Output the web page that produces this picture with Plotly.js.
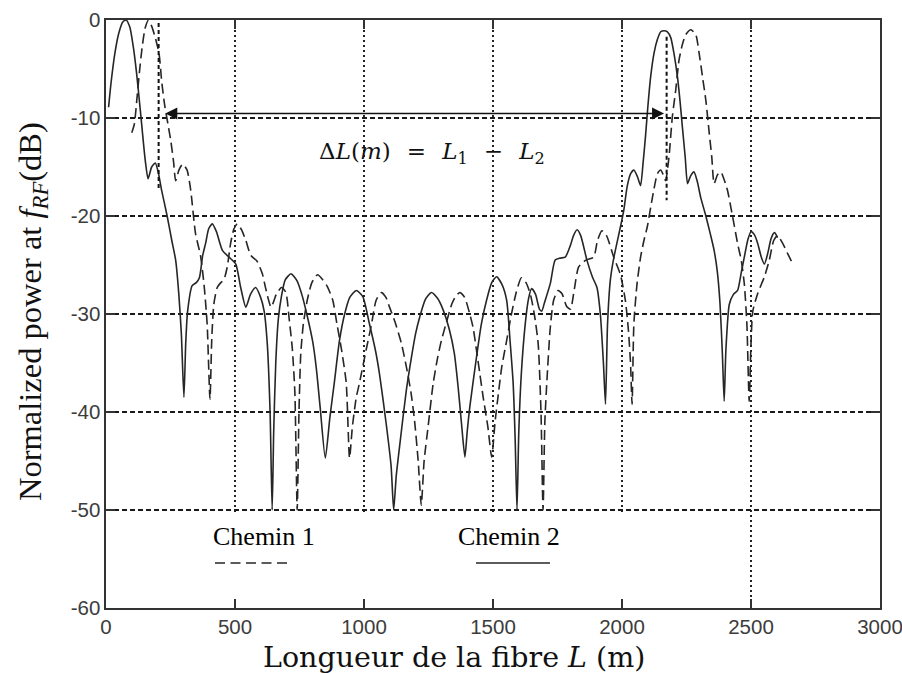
<!DOCTYPE html>
<html>
<head>
<meta charset="utf-8">
<script src="https://cdn.plot.ly/plotly-3.0.1.min.js"></script>
<style>
  html, body { margin: 0; padding: 0; background: #fff; }
  #chart { width: 902px; height: 673px; }
</style>
</head>
<body>
<div id="chart"></div>
<script>
// ---- Data ----
// Chemin 2 (solid line): fibre length L (m) and normalized power (dB)
const chemin2_L = [10,20,35,50,65,78,92,105,118,133,152,163,177,191,203,215,237,255,270,282,292,302,309,316,334,350,362,375,386,398,412,428,451,477,503,522,542,560,580,598,613,625,636,644,650,658,668,680,695,717,740,760,780,801,815,830,850,868,885,905,925,945,970,995,1021,1045,1060,1086,1105,1115,1125,1138,1164,1184,1200,1216,1238,1261,1285,1307,1330,1350,1365,1378,1391,1400,1410,1436,1455,1475,1495,1514,1535,1553,1566,1578,1586,1593,1600,1610,1625,1638,1650,1665,1680,1689,1700,1722,1741,1760,1780,1800,1812,1826,1840,1864,1885,1903,1916,1928,1936,1944,1955,1968,1994,2007,2020,2033,2046,2060,2072,2082,2091,2100,2111,2124,2137,2150,2163,2176,2189,2202,2215,2225,2234,2245,2254,2266,2279,2292,2305,2325,2342,2357,2370,2380,2389,2396,2403,2416,2432,2448,2462,2474,2488,2500,2513,2526,2540,2552,2565,2578,2591,2603];
const chemin2_dB = [-8.9,-6.3,-3.3,-1.3,-0.2,0,-0.7,-2.6,-5.3,-9.2,-14.3,-16.2,-15.0,-14.6,-15.6,-17.3,-20.0,-22.5,-24.5,-27.9,-32,-38.5,-33,-29.8,-27.1,-26.8,-26.3,-24,-22.8,-21.3,-20.8,-21.6,-23.5,-24.2,-24.9,-27.3,-29.3,-28.0,-27.3,-28.2,-29.7,-33,-40,-50,-42,-35,-30.5,-28.2,-26.5,-25.9,-26.6,-28.1,-30.2,-32.8,-35.5,-39.5,-44.7,-40.5,-37,-32.7,-30,-28.3,-27.6,-28.2,-31,-33.8,-36.1,-41.2,-45.5,-50,-46.5,-43.5,-37.8,-34.4,-32,-30.3,-28.5,-27.8,-28.4,-29.6,-31.5,-34,-37.5,-41.2,-44.6,-42,-39.5,-34.4,-31,-28.6,-26.8,-26.2,-27,-28.6,-32.7,-37,-42.9,-50,-42,-36,-31,-28.4,-27.4,-28,-29.5,-29.7,-28.8,-26.9,-24.5,-24.3,-24.2,-23,-22,-21.4,-22,-24.5,-26.2,-27.3,-30,-35,-39.2,-31,-26.5,-24.3,-21.1,-19.4,-17,-15.7,-15.3,-16,-16.9,-14.5,-11.9,-8.9,-5.8,-3.4,-2,-1.2,-1.1,-1.2,-1.8,-3.5,-5.8,-8.3,-10.9,-14,-16.7,-15.9,-15.5,-16.5,-18.1,-20.0,-21.8,-23.5,-25.8,-29,-34,-38.9,-33.5,-29,-28,-27.6,-25.8,-24.2,-22.4,-21.6,-21.9,-22.8,-24.2,-24.9,-23.8,-22.3,-21.7,-22.2];

// Chemin 1 (dashed line)
const chemin1_L = [100,110,120,130,140,152,165,178,192,206,216,228,240,251,262,270,283,297,314,328,347,366,380,392,403,410,418,431,445,457,470,483,496,509,525,542,561,585,606,620,640,660,680,697,710,722,732,741,748,755,765,780,798,820,840,858,879,895,912,931,944,955,970,982,1008,1028,1047,1067,1085,1099,1120,1145,1165,1182,1196,1210,1222,1233,1248,1268,1285,1300,1320,1340,1355,1372,1390,1410,1423,1436,1449,1462,1480,1495,1508,1521,1534,1553,1570,1590,1610,1628,1645,1660,1675,1686,1694,1701,1709,1722,1735,1752,1767,1785,1800,1815,1832,1860,1890,1905,1922,1940,1968,1994,2013,2025,2033,2039,2046,2058,2072,2085,2098,2118,2137,2150,2160,2169,2182,2195,2208,2221,2234,2247,2267,2286,2299,2312,2325,2338,2348,2357,2370,2383,2396,2409,2429,2448,2462,2474,2484,2493,2500,2507,2526,2552,2571,2588,2603,2623,2645,2662];
const chemin1_dB = [-11.5,-10.6,-8,-5.2,-2.8,-0.8,0,-0.7,-1.9,-3.5,-6.3,-8.8,-10.6,-12.3,-14.5,-16.4,-15.3,-14.7,-15.3,-17.3,-21.8,-24,-27,-31,-38.7,-32.5,-29,-27.3,-26.8,-26.5,-25.2,-22.8,-21.3,-20.8,-21.4,-22.5,-24,-24.6,-25.9,-27.5,-29.3,-28.0,-27.3,-27.8,-30.5,-33.5,-38,-50,-40,-34,-31,-28.6,-26.8,-26,-26.5,-27.2,-28.6,-31,-33.5,-37,-44.7,-41.5,-38.5,-37.1,-33.7,-31.2,-28.6,-27.8,-28.3,-29.3,-30.8,-33,-35.5,-38,-40.9,-45,-49.5,-45,-41.6,-37.1,-34.5,-32.7,-30.8,-29,-28.2,-27.8,-28.3,-30,-31.4,-33.7,-36.1,-38.5,-41.5,-44.6,-41,-38.1,-35.4,-32.7,-30.2,-27.8,-26.3,-26.8,-28,-30,-33,-40,-50,-41,-36.8,-31.4,-28.6,-27.6,-27.9,-29.2,-29.5,-27.5,-25.2,-24.5,-24.2,-22.5,-21.5,-22,-24.2,-26,-28.6,-31.7,-35,-39.2,-31,-27,-24.2,-22.5,-21.1,-18.1,-15.7,-15.3,-15.8,-16.4,-14,-9.9,-7.2,-4.1,-2.5,-1.5,-1.0,-1.5,-3.4,-5.8,-8.2,-11.5,-14,-16.7,-15.8,-15.5,-16.3,-17.4,-20.1,-22.8,-24.5,-26.9,-31,-38.9,-33,-29.7,-27.9,-26.2,-24.5,-22.5,-22,-22.8,-24,-24.9];

// Axis ticks
const xTickVals = [0, 500, 1000, 1500, 2000, 2500, 3000];
const xTickText = ['0', '500', '1000', '1500', '2000', '2500', '3000'];
const yTickVals = [0, -10, -20, -30, -40, -50, -60];
const yTickText = ['0', '-10', '-20', '-30', '-40', '-50', '-60'];

// Series names / labels
const seriesNames = ['Chemin 1', 'Chemin 2'];

// ---- Chart ----
const lineColor = '#262626';
const traces = [
  {
    x: chemin1_L, y: chemin1_dB, type: 'scatter', mode: 'lines', name: seriesNames[0],
    line: { color: lineColor, width: 1.6, dash: '10px,5px', shape: 'spline', smoothing: 0.6 }
  },
  {
    x: chemin2_L, y: chemin2_dB, type: 'scatter', mode: 'lines', name: seriesNames[1],
    line: { color: lineColor, width: 1.6, shape: 'spline', smoothing: 0.6 }
  }
];

const tickFont = { family: 'Liberation Sans, Arial, sans-serif', size: 20.5, color: '#3c3c3c' };
const serif = 'DejaVu Serif, serif';
const times = 'Liberation Serif, Times New Roman, serif';

// plot area: x 106..880, y 20..608
const PL = 106, PR = 880, PT = 20, PB = 608;
const PW = PR - PL, PH = PB - PT;
const px = v => (v - PL) / PW;
const py = v => (PB - v) / PH;

const layout = {
  width: 902, height: 673,
  margin: { l: PL, r: 902 - PR, t: PT, b: 673 - PB },
  paper_bgcolor: '#fff', plot_bgcolor: '#fff',
  showlegend: false,
  xaxis: {
    range: [0, 3000], tickvals: xTickVals, ticktext: xTickText,
    ticks: 'inside', ticklen: 9, tickwidth: 1.2, tickcolor: '#333',
    showgrid: true, gridcolor: '#222', gridwidth: 2, griddash: '2px,3px',
    showline: true, linecolor: '#333', linewidth: 1.6, mirror: 'ticks',
    zeroline: false, tickfont: tickFont, fixedrange: true, ticklabeloverflow: 'allow'
  },
  yaxis: {
    range: [-60, 0], tickvals: yTickVals, ticktext: yTickText,
    ticks: 'inside', ticklen: 9, tickwidth: 1.2, tickcolor: '#333',
    showgrid: true, gridcolor: '#1a1a1a', gridwidth: 1.4, griddash: '5px,3px',
    showline: true, linecolor: '#333', linewidth: 1.6, mirror: 'ticks',
    zeroline: false, tickfont: tickFont, fixedrange: true, ticklabeloverflow: 'allow'
  },
  shapes: [
    // white box under the labels, hiding the grid between -50 and -60
    { type: 'rect', xref: 'x', yref: 'y', x0: 0, x1: 2250, y0: -50.3, y1: -60,
      fillcolor: '#fff', line: { width: 0 }, layer: 'between' },
    // marker lines at the two main peaks
    { type: 'line', xref: 'x', yref: 'y', x0: 204, x1: 204, y0: -0.3, y1: -17.4,
      line: { color: '#111', width: 2, dash: '4px,3px' } },
    { type: 'line', xref: 'x', yref: 'y', x0: 2173, x1: 2173, y0: -1.7, y1: -18.4,
      line: { color: '#111', width: 2, dash: '4px,3px' } },
    // legend swatches
    { type: 'line', xref: 'paper', yref: 'paper', x0: px(215), x1: px(288), y0: py(563), y1: py(563),
      line: { color: lineColor, width: 1.5, dash: '10px,5.5px' } },
    { type: 'line', xref: 'paper', yref: 'paper', x0: px(476), x1: px(550), y0: py(563), y1: py(563),
      line: { color: lineColor, width: 1.5 } }
  ],
  annotations: [
    // double arrow ΔL
    { x: 2163, y: -9.55, ax: 224, ay: -9.55, xref: 'x', yref: 'y', axref: 'x', ayref: 'y',
      text: '', showarrow: true, arrowhead: 2, startarrowhead: 2, arrowside: 'end+start',
      arrowsize: 1.6, startarrowsize: 1.6, arrowwidth: 1.5, arrowcolor: '#111',
      standoff: 0, startstandoff: 0 },
    { x: 1263, y: -13.6, xref: 'x', yref: 'y', showarrow: false,
      text: 'Δ<i>L</i>(<i>m</i>)\u2002\u2009=\u2002\u2009<i>L</i><sub>1</sub>\u2002\u2009−\u2002\u2009<i>L</i><sub>2</sub>',
      font: { family: serif, size: 23, color: '#111' }, xanchor: 'center', yanchor: 'middle' },
    // legend texts
    { x: px(263.5), y: py(536), xref: 'paper', yref: 'paper', showarrow: false,
      text: seriesNames[0], font: { family: times, size: 26, color: '#000' },
      xanchor: 'center', yanchor: 'middle' },
    { x: px(508.5), y: py(536), xref: 'paper', yref: 'paper', showarrow: false,
      text: seriesNames[1], font: { family: times, size: 26, color: '#000' },
      xanchor: 'center', yanchor: 'middle' },
    // axis titles
    { x: px(454), y: py(657), xref: 'paper', yref: 'paper', showarrow: false,
      text: 'Longueur de la fibre <i>L</i> (m)', font: { family: serif, size: 28.5, color: '#111' },
      xanchor: 'center', yanchor: 'middle' },
    { x: px(32), y: py(312), xref: 'paper', yref: 'paper', showarrow: false,
      textangle: -90,
      text: 'Normalized power at <i>f</i><sub><i>RF</i></sub>(dB)', font: { family: times, size: 32.5, color: '#111' },
      xanchor: 'center', yanchor: 'middle' }
  ]
};

Plotly.newPlot('chart', traces, layout, { displayModeBar: false, staticPlot: true });
</script>
</body>
</html>
